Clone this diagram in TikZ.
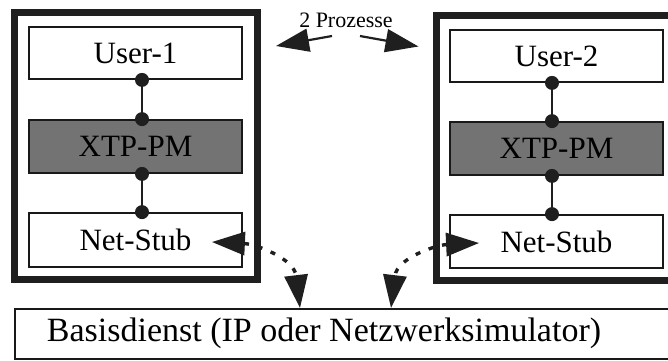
\documentclass[tikz,border=0pt]{standalone}
\usepackage{fontspec}
\setmainfont{Liberation Serif}
\usetikzlibrary{arrows.meta,calc}
\tikzset{
  bighead/.tip={Triangle[length=33pt,width=23pt]},
  dothead/.tip={Triangle[length=33pt,width=23pt]},
}
\begin{document}
\begin{tikzpicture}[x=1pt,y=-1pt,
  inbox/.style={draw=black!90, line width=1.8pt, minimum width=213pt, inner sep=0pt, font=\fontsize{31}{36}\selectfont},
  xtpbox/.style={inbox, fill=black!55},
  proc/.style={draw=black!88, line width=7pt, inner sep=0pt},
  pdot/.style={circle, fill=black!88, minimum size=14pt, inner sep=0pt},
  link/.style={line width=2pt, draw=black!88},
  bigarr/.style={arrows={-bighead}, line width=2.2pt, draw=black!88},
  dotarr/.style={arrows={dothead-dothead}, line width=3.4pt, draw=black!88, dash pattern=on 5pt off 9pt}
]
\useasboundingbox (0,0) rectangle (668,360);
\clip (0,0) rectangle (668,360);

% inner boxes, left process
\node[inbox, minimum height=52pt] (u1) at (135.5,53) {User-1};
\node[xtpbox, minimum height=53pt] (x1) at (135.5,146.5) {XTP-PM};
\node[inbox, minimum height=54pt] (n1) at (135.5,240) {Net-Stub};
% inner boxes, right process
\node[inbox, minimum height=52pt] (u2) at (556.5,56) {User-2};
\node[xtpbox, minimum height=53pt] (x2) at (556.5,148.5) {XTP-PM};
\node[inbox, minimum height=53pt] (n2) at (556.5,241.5) {Net-Stub};

% base service
\node[draw=black!90, line width=1.8pt, inner sep=0pt, minimum width=700pt, minimum height=50pt, anchor=north west] (base) at (14,308) {};
\node[font=\fontsize{34}{40}\selectfont, inner sep=0pt] (bt) at (324,333) {Basisdienst (IP oder Netzwerksimulator)};

% connection points
\path (u1.south) ++(6.5,0) coordinate (a1);
\path (x1.north) ++(6.5,0) coordinate (b1);
\path (x1.south) ++(6.5,0) coordinate (c1);
\path (n1.north) ++(6.5,0) coordinate (d1);
\path (u2.south) ++(-4.5,0) coordinate (a2);
\path (x2.north) ++(-4.5,0) coordinate (b2);
\path (x2.south) ++(-4.5,0) coordinate (c2);
\path (n2.north) ++(-4.5,0) coordinate (d2);
\draw[link] (a1) -- (b1);
\draw[link] (c1) -- (d1);
\draw[link] (a2) -- (b2);
\draw[link] (c2) -- (d2);
\foreach \p in {a1,b1,c1,d1,a2,b2,c2,d2} \node[pdot] at (\p) {};

% dotted connections to the base service
\path (n1.east) ++(-31,2) coordinate (t1);
\path (n2.west) ++(30,1.5) coordinate (t2);
\path (base.north west) ++(286,0) coordinate (e1);
\path (base.north west) ++(377,0) coordinate (e2);
\draw[dotarr] (t1) .. controls (255,244) and (294,258) .. (e1);
\draw[dotarr] (t2) .. controls (436,245) and (397,258) .. (e2);

% process frames
\node[proc, minimum width=243pt, minimum height=267pt] (p1) at (136,146) {};
\node[proc, minimum width=244pt, minimum height=265pt] (p2) at (558,147.5) {};

% label
\node[font=\fontsize{22}{26}\selectfont, inner sep=0pt, anchor=base] (pz) at (346,27) {2 Prozesse};
\coordinate (s1) at (332,36);
\coordinate (s2) at (360,36);
\path (p1.north east) ++(15,37) coordinate (h1);
\path (p2.north west) ++(-14,35) coordinate (h2);
\draw[bigarr] (s1) -- (h1);
\draw[bigarr] (s2) -- (h2);
\end{tikzpicture}
\end{document}
